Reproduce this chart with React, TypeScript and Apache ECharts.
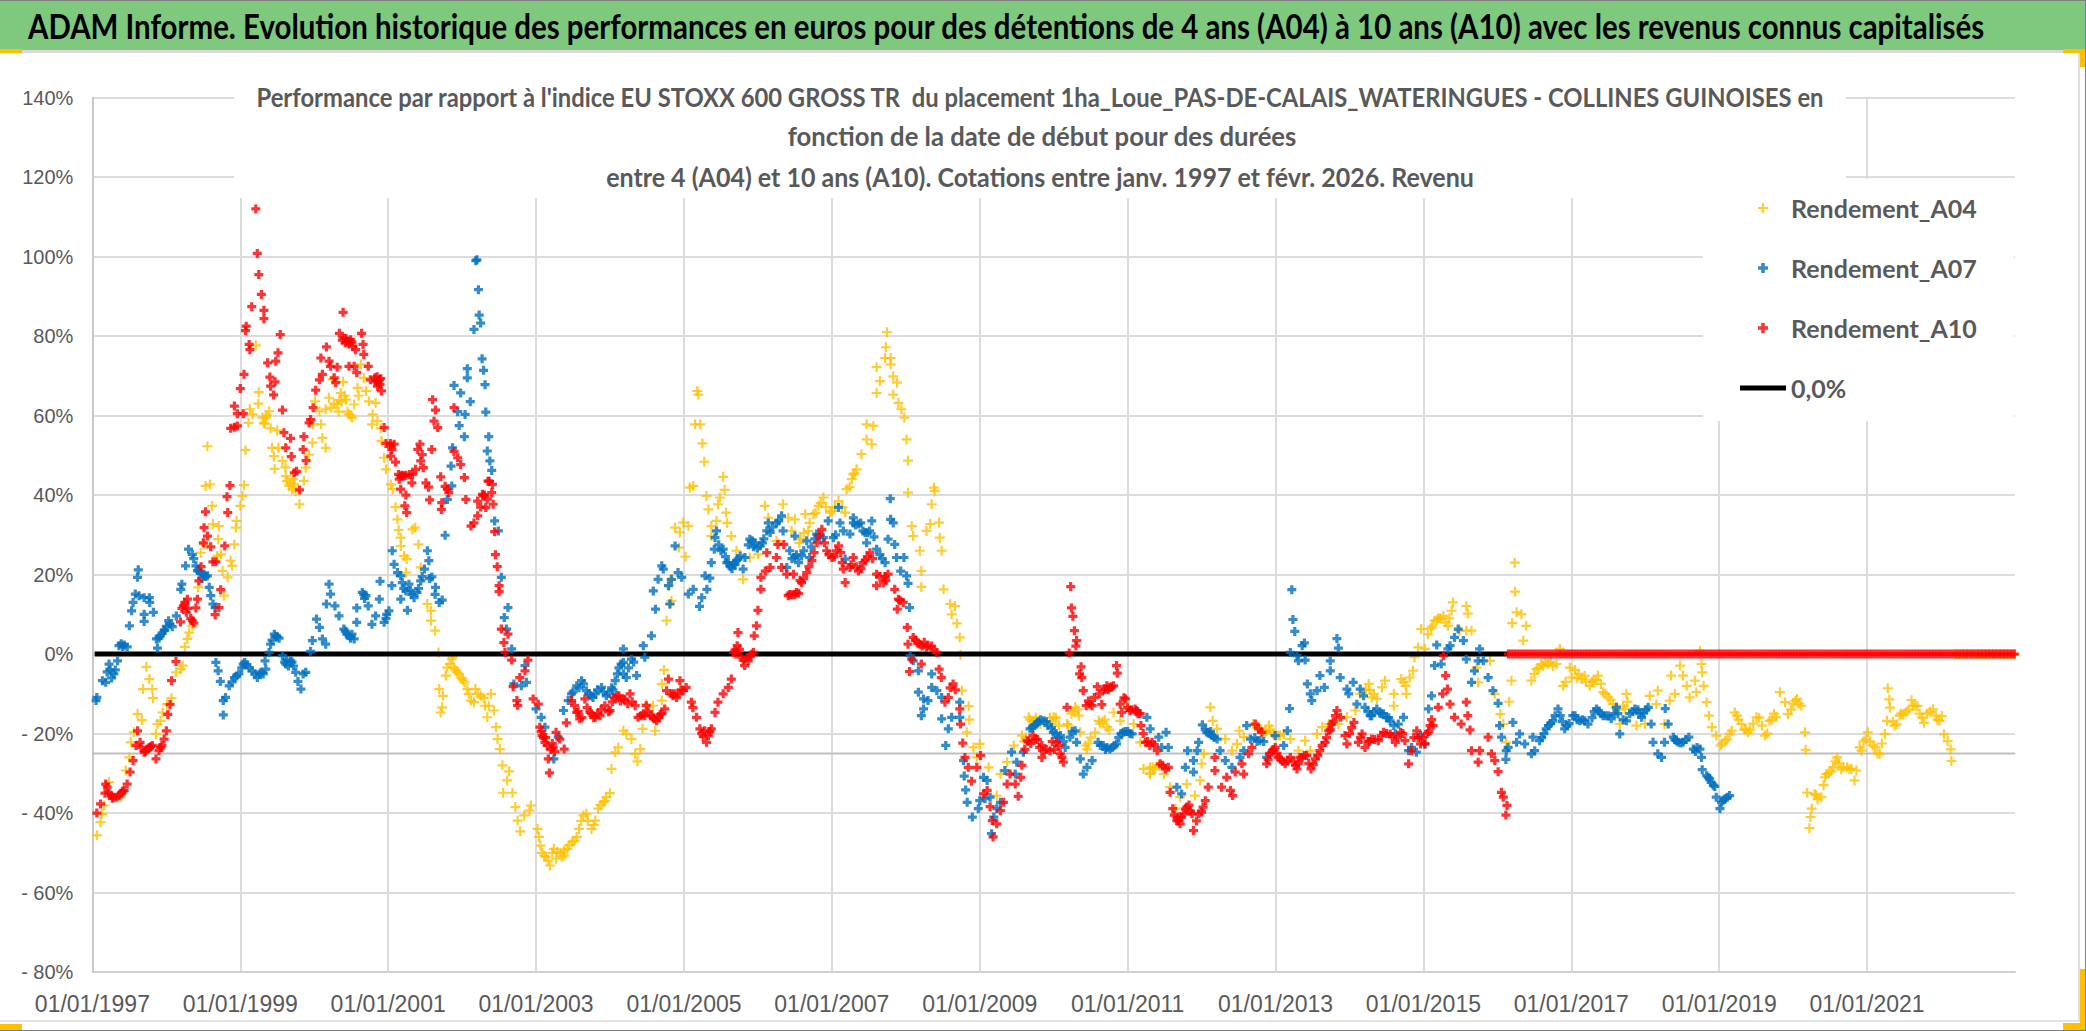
import React, { useEffect, useRef } from "react";
import * as echarts from "echarts";

const pageTitle = "ADAM Informe. Evolution historique des performances en euros pour des détentions de 4 ans (A04) à 10 ans (A10) avec les revenus connus capitalisés";
const subtitleLines = [
  "Performance par rapport à l'indice EU STOXX 600 GROSS TR  du placement 1ha_Loue_PAS-DE-CALAIS_WATERINGUES - COLLINES GUINOISES en",
  "fonction de la date de début pour des durées",
  "entre 4 (A04) et 10 ans (A10). Cotations entre janv. 1997 et févr. 2026. Revenu",
];
const seriesNames = ["Rendement_A04", "Rendement_A07", "Rendement_A10", "0,0%"];

const a04Points = [
[1997.06,-45.6],[1997.11,-42.3],[1997.13,-40.2],[1997.16,-38.1],[1997.225,-32.2],[1997.38,-36],[1997.45,-29.3],[1997.5,-26],[1997.52,-22.2],[1997.56,-19.7],[1997.61,-15.1],[1997.67,-16.6],[1997.73,-3.2],[1997.77,-6.3],[1997.685,-8.8],[1997.81,-8.8],[1997.82,-11.1],[1997.88,-17.6],[1997.86,-20.1],[1997.92,-16.8],[1997.95,-14.7],[1998.07,-11.1],[1998.01,-12.6],[1998.13,-4.6],[1998.22,-2.9],[1998.195,-3.8],
[1998.25,1.8],[1998.285,3.8],[1998.31,5.4],[1998.35,7.1],[1998.43,16.8],[1998.78,14.7],[1998.83,19.3],[1998.87,23.5],[1998.89,22.2],[1998.76,20.9],[1998.69,24.7],[1998.92,27.6],[1998.74,25.1],[1998.7,28.9],[1998.465,25.5],[1998.51,27.6],[1998.63,32.7],[1998.71,32.2],[1998.62,37.3],[1998.53,42.3],[1998.59,42.7],[1998.555,52.3],[1998.94,31.8],[1998.95,33.5],[1999,37.3],[1999.03,39.8],[1999.05,42.5],[1999.07,51.3],[1999.11,58.2],[1999.13,61.6],[1999.21,77.7],[1999.165,60.3],[1999.25,65.9],[1999.245,63],[1999.3,59.5],[1999.33,58],[1999.345,59.5],[1999.36,60],[1999.39,61.1],[1999.32,58.2],[1999.41,56.8],[1999.5,56.3],[1999.43,51.9],[1999.515,51.9],[1999.455,49.8],[1999.57,48.6],[1999.61,47],[1999.465,46.6],[1999.615,44.8],[1999.63,43.5],[1999.66,42.3],[1999.68,43],[1999.71,44],[1999.73,42.7],[1999.705,41.5],[1999.75,41],[1999.8,37.7],[1999.86,43.6],[1999.885,46.9],[1999.93,50.2],[1999.975,53.2],
[1999.985,57.8],[2000.01,63.6],[2000.07,61.1],[2000.09,57.8],[2000.11,54.4],[2000.155,51.9],[2000.155,61.6],[2000.2,64.5],[2000.23,62],[2000.25,69.1],[2000.27,63],[2000.31,62.8],[2000.33,61],[2000.34,64],[2000.36,65.7],[2000.37,63.5],[2000.39,68.5],[2000.41,65],[2000.43,64],[2000.45,61],[2000.47,60.3],[2000.5,60],[2000.51,59.5],[2000.54,62.8],[2000.585,67],[2000.6,65],[2000.63,72.9],[2000.67,69.5],[2000.7,66.2],[2000.74,63.6],[2000.83,63.2],[2000.79,60.3],[2000.78,57.8],[2000.855,58.6],[2000.9,56.8],[2000.91,53.6],[2000.945,49.4],[2000.97,46.5],[2001.035,42.7],[2001.06,41.5],[2001.1,37],[2001.125,33.9],[2001.14,31.2],[2001.17,29.3],[2001.17,27.2],[2001.215,24.7],[2001.25,23.9],[2001.24,20.5],[2001.33,31.4],[2001.365,31.8],[2001.41,27.6],[2001.44,21.8],[2001.53,12.6],[2001.58,10.9],[2001.58,8.4],[2001.635,5.9],[2001.68,0.4],[2001.87,-0.8],
[2001.69,-8.8],[2001.74,-10.5],[2001.73,-13.4],[2001.71,-14.7],[2001.78,-5.4],[2001.8,-3.4],[2001.83,-2.5],[2001.86,-1.3],[2001.89,-3.4],[2001.91,-4],[2001.93,-4.5],[2001.96,-5],[2001.99,-6],[2002.01,-6.5],[2002.03,-7.1],[2002.07,-8.8],[2002.09,-10],[2002.12,-11.7],[2002.16,-12.1],[2002.18,-8.8],[2002.21,-10],[2002.25,-10.5],[2002.29,-11],[2002.31,-13],[2002.34,-15.9],[2002.36,-13],[2002.39,-10],[2002.43,-14.2],[2002.46,-18.4],[2002.48,-21.4],[2002.51,-23.9],[2002.545,-28],[2002.635,-29.5],[2002.61,-31.8],[2002.555,-34.9],[2002.68,-34.9],[2002.72,-38.5],[2002.75,-41.9],[2002.785,-44.6],[2002.84,-40.6],[2002.91,-39.4],[2002.93,-38.1],[2003.02,-44],[2003.04,-46],[2003.06,-48.2],[2003.08,-50],[2003.11,-50.7],[2003.13,-51],[2003.16,-52],[2003.19,-53.2],[2003.22,-50],[2003.24,-49],[2003.27,-51.5],[2003.29,-49.8],[2003.33,-50],[2003.35,-51],[2003.38,-50.7],[2003.38,-49.4],[2003.42,-49],[2003.45,-48],[2003.49,-47.3],[2003.52,-47],[2003.55,-46],
[2003.58,-44],[2003.61,-42],[2003.64,-40.6],[2003.68,-40.2],[2003.7,-42],[2003.75,-44],[2003.78,-43],[2003.8,-41.9],[2003.84,-38.9],[2003.87,-38],[2003.91,-37.3],[2003.93,-37],[2003.95,-36],[2004,-35],[2004.02,-28.9],[2004.07,-24.7],[2004.11,-23.5],[2004.18,-19.3],[2004.22,-20.1],[2004.29,-21.4],[2004.34,-25.1],[2004.37,-27],[2004.41,-23.9],[2004.44,-18.8],[2004.61,-19.3],[2004.49,-12.6],[2004.58,-13],[2004.7,-11.7],[2004.7,-7.5],[2004.73,-4],[2004.765,8.4],[2004.81,12.6],[2004.83,13.4],[2004.8,17.2],[2004.83,18.8],[2004.93,26.8],[2005.02,24.5],[2004.88,31.8],[2004.945,30.6],[2004.99,33.1],[2005.06,32.2],
[2005.08,41.9],[2005.125,42.3],[2005.18,66.2],[2005.195,65.3],[2005.15,57.8],[2005.22,57.8],[2005.25,53],[2005.275,48.4],[2005.305,39.8],[2005.33,36.4],[2005.53,44.6],[2005.55,41.3],[2005.485,39.4],[2005.46,37.7],[2005.57,35.6],[2005.585,33],[2005.37,32.2],[2005.44,33.5],[2005.37,29.7],[2005.64,29.7],[2005.71,26],[2005.8,18.8],[2005.89,24.3],[2006,25.1],[2006.095,37.3],[2006.14,34.3],[2006.25,28.5],[2006.34,37.7],[2006.41,34.3],[2006.5,33.9],[2006.455,31],[2006.56,28],[2006.58,29],[2006.62,30.5],[2006.64,35.2],[2006.68,31],[2006.7,33],[2006.75,35.2],[2006.78,35.5],[2006.82,37.3],[2006.85,38],[2006.885,39.4],[2006.92,37],[2006.975,35.6],[2007,36],[2007.04,37],[2007.09,38.5],[2007.14,37],[2007.18,35.6],[2007.2,41.5],[2007.24,42],[2007.27,44],[2007.29,45.2],[2007.31,45.5],[2007.335,46.5],[2007.4,50.3],[2007.47,54],[2007.54,52.8],[2007.47,57.8],[2007.56,57.4],[2007.605,65.7],[2007.605,72.2],[2007.65,68.7],[2007.72,74.5],[2007.73,77.2],[2007.745,81],[2007.795,74.5],[2007.795,72.9],[2007.83,69.9],[2007.88,68.3],[2007.83,65.3],[2007.9,63.2],[2007.94,61.6],[2007.98,59.5],[2008.01,54],[2008.03,48.7],[2008.03,40.6],[2008.38,41.9],[2008.39,41],[2008.35,37.7],[2008.08,32.2],[2008.1,29.7],[2008.19,26],[2008.28,31],[2008.33,32.7],[2008.45,33.1],[2008.46,29.3],[2008.485,26],[2008.21,20.9],[2008.21,16.9],[2008.51,16.3],[2008.6,12.6],[2008.665,12.1],[2008.62,10],[2008.69,7.7],[2008.73,4.2],[2008.74,-0.2],
[2008.76,-9.2],[2008.85,-13.1],[2008.86,-16.5],[2008.825,-19.7],[2008.915,-23.5],[2009,-22.6],[2008.96,-26],[2009.12,-28.5],[2009.28,-30.2],[2009.37,-27.2],[2009.23,-35.6],[2009.46,-23],[2009.57,-20.5],[2009.6,-22],[2009.62,-21],[2009.66,-15.9],[2009.68,-16.5],[2009.71,-17],[2009.73,-16.8],[2009.76,-16],[2009.82,-17.6],[2009.95,-16],[2009.98,-17.5],[2010,-15.9],[2010.03,-16],[2010.07,-18],[2010.18,-17.6],[2010.2,-18],[2010.24,-15],[2010.27,-14.5],[2010.29,-13.4],[2010.32,-14],[2010.34,-15.5],[2010.43,-23],[2010.45,-24],[2010.47,-22.5],[2010.5,-21],[2010.36,-19.7],[2010.56,-19.7],[2010.61,-16.8],[2010.63,-17.5],[2010.66,-17],[2010.69,-16.5],[2010.72,-18.4],[2010.75,-19],[2010.81,-14.7],[2010.9,-16.8],[2011,-13.4],[2011.08,-17.6],[2011.17,-22.2],[2011.215,-28.9],[2011.3,-30],[2011.305,-28.5],[2011.305,-30.2],[2011.34,-28.5],[2011.37,-29],[2011.42,-28],[2011.49,-30.2],[2011.575,-33.5],[2011.645,-38.9],[2011.71,-36],[2011.8,-32.7],[2011.91,-35.6],[2011.98,-31.8],[2012.03,-25.1],[2012,-27.6],[2012.12,-13.4],[2012.15,-16.8],[2012.21,-18.8],[2012.32,-21.4],[2012.41,-24.3],[2012.48,-22.6],[2012.51,-19.3],[2012.57,-20.9],[2012.7,-17.6],[2012.75,-18],[2012.8,-19],[2012.85,-19.5],[2012.87,-19.5],[2012.91,-18],[2012.93,-19],[2012.97,-20],[2012.995,-20.5],[2013.03,-20.5],[2013.06,-20.5],[2013.11,-20.1],[2013.2,-21.4],[2013.31,-24.3],[2013.4,-21.8],[2013.47,-24.3],[2013.56,-20.1],[2013.63,-18.4],[2013.72,-17.6],[2013.85,-17.6],[2013.965,-15.9],[2014.08,-14.2],[2014.145,-10],[2014.22,-9],[2014.26,-7.5],[2014.27,-9],[2014.3,-10.9],[2014.33,-10],[2014.37,-11.3],[2014.44,-8.4],[2014.48,-6.7],[2014.6,-10],[2014.6,-13],[2014.7,-6.3],[2014.73,-7],[2014.76,-8],[2014.77,-10],[2014.815,-5.9],[2014.86,-4.2],[2014.88,-0.8],[2014.93,1.7],[2015.02,1.3],[2014.97,6.3],[2015.06,5],[2015.1,6.5],[2015.12,7],[2015.15,8.4],[2015.18,8.5],[2015.2,9],[2015.23,9],[2015.27,9.6],[2015.3,8],[2015.33,7.1],[2015.35,9],[2015.38,10.9],[2015.4,13],[2015.58,12.1],[2015.6,10.2],[2015.49,5.9],[2015.58,5.9],[2015.65,5.9],
[2015.72,-3.4],[2015.74,-7.1],[2015.9,-1.7],[2015.965,-10],[2016.04,-15.1],[2016.08,-17.6],[2016.12,-22.2],[2016.16,-12],[2016.19,-6.7],[2016.2,7.8],[2016.235,23],[2016.24,15.7],[2016.26,10.5],[2016.325,10],[2016.39,7.1],[2016.35,3.4],
[2016.46,-6.7],[2016.5,-5],[2016.53,-3.8],[2016.56,-3.5],[2016.595,-2.5],[2016.62,-3],[2016.65,-2],[2016.685,-2.5],[2016.72,-2],[2016.75,-3],[2016.8,-2.5],[2016.845,1.3],[2016.89,-8],[2016.92,-7],[2016.98,-3.4],[2017,-5.9],[2017.05,-4],[2017.08,-6],[2017.1,-5],[2017.14,-6.3],[2017.18,-5.5],[2017.2,-7],[2017.25,-8],[2017.28,-7],[2017.3,-6.5],[2017.33,-6.5],[2017.36,-5.4],[2017.4,-7.5],[2017.43,-9.6],[2017.46,-10],[2017.5,-10.9],[2017.53,-11.5],[2017.565,-12.6],[2017.6,-13.5],[2017.62,-14],[2017.7,-13],[2017.745,-10],[2017.725,-13.8],[2017.76,-12],[2017.655,-17.6],[2017.88,-18],[2017.995,-17.6],[2018.06,-10.5],[2018.17,-9.2],[2018.15,-12.6],[2018.26,-17.6],[2018.33,-11.7],[2018.4,-10],[2018.35,-5.4],[2018.47,-2.9],[2018.51,-5.4],[2018.56,-8],[2018.6,-10.9],[2018.67,-6.7],[2018.69,-9.6],[2018.74,0.8],[2018.76,-2.5],[2018.77,-4.6],[2018.79,-8],[2018.83,-12.1],[2018.86,-15.5],[2018.9,-18.4],[2018.96,-20.5],[2019.02,-23],[2019.04,-22.5],[2019.08,-21.8],[2019.11,-21.5],[2019.14,-20],[2019.17,-19.3],[2019.21,-14.7],[2019.24,-15.5],[2019.26,-16.5],[2019.3,-17.6],[2019.34,-19],[2019.36,-19],[2019.39,-19.7],[2019.42,-19],[2019.46,-17.5],[2019.505,-15.9],[2019.54,-16],[2019.58,-18],[2019.62,-20.5],[2019.65,-20],[2019.68,-16.8],[2019.71,-16.5],[2019.74,-15],[2019.77,-15.9],[2019.82,-9.6],[2019.89,-12.1],[2019.93,-15.1],[2019.97,-14],[2020,-12.5],[2020.03,-11.8],[2020.05,-11.3],[2020.08,-12.5],[2020.11,-13],
[2020.16,-19.7],[2020.17,-24.1],[2020.19,-34.9],[2020.25,-38.9],[2020.235,-41],[2020.22,-43.8],[2020.29,-35.2],[2020.31,-35.5],[2020.33,-36.5],[2020.38,-36],[2020.41,-33],[2020.43,-31],[2020.45,-30.2],[2020.48,-30],[2020.51,-29.5],[2020.54,-28.5],[2020.57,-27],[2020.595,-26],[2020.62,-27.5],[2020.65,-29],[2020.68,-28.5],[2020.73,-28.5],[2020.76,-29],[2020.79,-28.9],[2020.83,-31.8],[2020.855,-29.3],
[2020.9,-23.5],[2020.925,-24.3],[2020.95,-22],[2020.98,-21.5],[2021.01,-19.7],[2021.04,-22],[2021.08,-23],[2021.11,-23.5],[2021.14,-25],[2021.17,-25.1],[2021.2,-22.5],[2021.24,-20.1],[2021.28,-8.6],[2021.3,-11.4],[2021.31,-13.5],[2021.27,-16.8],[2021.35,-17],[2021.37,-18],[2021.4,-17.7],[2021.44,-15.5],[2021.46,-15],[2021.49,-15.2],[2021.53,-14.5],[2021.56,-14],[2021.6,-11.6],[2021.62,-13],[2021.65,-13],[2021.68,-13.1],[2021.71,-15],[2021.74,-16],[2021.77,-17.3],[2021.81,-15],[2021.85,-14.5],[2021.89,-13.9],[2021.93,-15.5],[2021.95,-16.5],[2021.98,-16.8],[2022.01,-15.6],[2022.04,-20.2],[2022.09,-21.9],[2022.13,-24],[2022.14,-26.9],
[2022.2,0],[2022.25,0],[2022.3,0],[2022.35,0],[2022.4,0],[2022.45,0],[2022.5,0],[2022.55,0],[2022.6,0],[2022.65,0],[2022.7,0],[2022.75,0],[2022.8,0],[2022.85,0],[2022.9,0],[2022.95,0],[2022.99,0],
];

const a07Points = [
[1997.06,-10.9],[1997.05,-11.7],[1997.135,-6.7],[1997.18,-7.1],[1997.2,-4.5],[1997.225,-2.5],[1997.24,-4],[1997.26,-6],[1997.29,-5],[1997.31,-4],[1997.34,-1.7],[1997.36,2.1],[1997.39,2.6],[1997.41,1.9],[1997.43,2.3],[1997.47,1.8],[1997.5,7.1],[1997.53,10.9],[1997.55,13],[1997.58,15.1],[1997.63,14.7],[1997.61,19.3],[1997.62,21.2],[1997.7,14.2],[1997.77,14.2],[1997.775,13],[1997.7,10],[1997.7,8.2],[1997.825,10.5],[1997.88,1.5],[1997.865,3.8],[1997.9,4],[1997.92,4.6],[1997.94,5.3],[1997.97,5.9],[1997.98,6],[1998,7],[1998.03,8.4],[1998.05,7.5],[1998.08,6.9],[1998.135,9.6],[1998.21,17.6],[1998.195,16.3],
[1998.26,22.2],[1998.3,26.4],[1998.35,25.1],[1998.37,24],[1998.4,22.2],[1998.42,21],[1998.44,20.9],[1998.46,20.5],[1998.48,19],[1998.51,20.1],[1998.53,19.5],[1998.555,19.7],[1998.58,16.8],[1998.6,14.7],[1998.63,12.6],[1998.66,11.7],
[1998.67,-2.1],[1998.7,-4.2],[1998.73,-6.9],[1998.77,-11.7],[1998.77,-15.3],[1998.8,-10.9],[1998.85,-8],[1998.89,-7],[1998.92,-5.9],[1998.95,-5.5],[1998.98,-5],[1999.02,-3.5],[1999.04,-2.5],[1999.06,-2.1],[1999.09,-2.7],[1999.12,-3.4],[1999.16,-4.3],[1999.2,-5],[1999.23,-5.9],[1999.26,-5],[1999.28,-4.6],[1999.31,-5],[1999.345,-3.8],[1999.335,-1.7],[1999.39,0.4],[1999.41,2.5],[1999.43,3.5],[1999.46,5],[1999.48,4.5],[1999.5,4.3],[1999.525,4],[1999.57,-0.4],[1999.6,-2],[1999.615,-2.5],[1999.63,-1.5],[1999.65,-3],[1999.68,-1.7],[1999.7,-2],[1999.72,-3],[1999.75,-4.6],[1999.85,-5],[1999.885,-4.6],[1999.78,-6.9],[1999.82,-8.8],[1999.95,0.7],[1999.975,3.4],[2000.03,8.8],[2000.07,6.7],[2000.11,3.8],[2000.155,2.5],[2000.165,12.6],[2000.2,17.6],[2000.22,15.1],[2000.28,12.1],[2000.335,9.6],[2000.4,6.3],[2000.42,5.8],[2000.44,5],[2000.47,4.6],[2000.49,4],[2000.51,5],[2000.54,3.8],[2000.575,8],[2000.575,11.6],[2000.65,15.5],[2000.67,15],[2000.68,14],[2000.7,14.7],[2000.73,12.1],[2000.78,7.5],[2000.83,9.6],[2000.89,18.3],[2000.88,13.8],[2000.945,8],[2000.97,9],[2000.98,10],[2001.01,10.9],[2001.05,17.2],[2001.08,22.6],[2001.125,20.5],[2001.17,19.7],[2001.17,13.8],[2001.19,18],[2001.21,16.5],[2001.24,15.9],[2001.26,11],[2001.28,17.6],[2001.3,16],[2001.32,15],[2001.35,14.2],[2001.39,15.5],[2001.41,16.5],[2001.44,18.4],[2001.46,19.5],[2001.49,21.4],[2001.56,19],[2001.59,19.4],[2001.64,16.8],[2001.635,15],[2001.69,13],[2001.73,13.6],[2001.055,26],[2001.53,26],[2001.55,23.5],
[2001.77,29.9],[2001.8,38.9],[2001.86,42.3],[2001.85,47.3],[2001.87,51.9],[2002.03,54.7],[2001.96,57.5],[2001.94,61],[2002.04,60.3],[2001.98,65.7],[2001.89,67.6],[2002.11,63.5],[2002.07,69.5],[2002.07,71.8],[2002.16,81.7],[2002.25,83.3],[2002.23,85.3],[2002.22,91.7],[2002.185,99],[2002.2,99.2],
[2002.27,74.3],[2002.29,71.4],[2002.31,67.8],[2002.32,60.9],[2002.36,54.7],[2002.34,51.1],[2002.375,48.6],[2002.4,46.2],[2002.44,33.5],[2002.49,31],[2002.53,19.3],[2002.62,11.7],[2002.57,9.2],[2002.6,6.3],[2002.67,1.3],[2002.87,-7.1],[2002.8,-8],[2002.7,-7.5],[2002.85,-2.9],[2003,-13.8],[2003.07,-15.9],[2003.12,-18.4],[2003.24,-26.4],[2003.3,-20.9],[2003.37,-14.2],[2003.435,-11.7],[2003.48,-10],[2003.5,-9.5],[2003.55,-8],[2003.58,-8.5],[2003.615,-6.7],[2003.64,-7.5],[2003.68,-9.2],[2003.71,-10],[2003.74,-10.5],[2003.77,-10.9],[2003.8,-10],[2003.83,-9],[2003.885,-8.4],[2003.91,-9.5],[2003.95,-10.5],[2003.98,-10],[2004.02,-8.5],[2004.04,-9],[2004.07,-6.7],[2004.1,-5],[2004.12,-3.5],[2004.15,-2.5],[2004.18,1.3],[2004.18,-2.1],[2004.18,-5],[2004.25,-3.5],[2004.29,-1.3],[2004.32,-2],[2004.36,-5.4],[2004.22,-5.9],[2004.45,2.1],[2004.47,-0.8],[2004.56,4.6],[2004.615,11.3],[2004.585,15.9],[2004.65,18.8],[2004.7,22.2],[2004.72,21.4],[2004.79,17.2],[2004.81,12.6],[2004.83,18.8],[2004.88,27.2],[2004.92,20.5],[2004.97,19.3],[2005.06,15.1],[2005.125,16.3],[2005.21,12],[2005.24,14.2],[2005.31,16.3],[2005.285,19.7],[2005.35,19.1],[2005.37,23],[2005.41,26.4],[2005.44,31],[2005.42,29.3],[2005.47,27.5],[2005.5,26],[2005.53,26.4],[2005.56,24.5],[2005.58,23],[2005.6,23],[2005.63,22],[2005.65,21.5],[2005.67,22.6],[2005.69,22.5],[2005.71,23.5],[2005.73,23.9],[2005.76,24.7],[2005.825,24.3],[2005.8,21.4],[2005.87,27.5],[2005.89,28.9],[2005.92,28.5],[2005.94,27],[2005.96,28],[2005.99,26.7],[2006.03,27.2],[2006.06,28],[2006.08,29],[2006.12,31],[2006.165,30.6],[2006.14,33],[2006.2,32],[2006.25,33],[2006.28,33.5],[2006.32,34.8],[2006.34,31],[2006.39,21.8],[2006.43,26],[2006.46,24],[2006.5,29.7],[2006.5,24.3],[2006.52,25],[2006.55,23],[2006.59,24.7],[2006.62,26],[2006.66,28.5],[2006.7,24.3],[2006.72,27],[2006.77,29],[2006.795,30.2],[2006.83,29.5],[2006.885,29.3],[2006.95,33.5],[2007.02,29.3],[2007.05,30],[2007.09,36.9],[2007.11,33],[2007.155,31],[2007.18,23.9],[2007.245,30.2],[2007.29,34.3],[2007.29,33],[2007.32,32.5],[2007.36,32.7],[2007.39,33],[2007.42,31],[2007.45,30.6],[2007.48,30.5],[2007.51,31],[2007.54,33.5],[2007.47,28],[2007.57,29.5],[2007.605,26.4],[2007.65,25],[2007.68,24],[2007.72,23],[2007.76,28.9],[2007.79,39.1],[2007.795,33.9],[2007.83,33],[2007.85,27.6],[2007.875,24.3],[2007.975,24.3],[2007.93,20.9],[2008.01,19.7],[2008.03,17.8],[2008.05,11.7],
[2008.06,-0.4],[2008.1,-1.7],[2008.17,-4.2],[2008.35,-5],[2008.35,-8.4],[2008.17,-9.6],[2008.24,-11.3],[2008.3,-11.7],[2008.21,-15.5],[2008.24,-13.8],[2008.485,-10.9],[2008.42,-9.2],[2008.73,-12.1],[2008.485,-16.3],[2008.62,-15.9],[2008.575,-18.8],[2008.54,-23],[2008.73,-15.9],[2008.78,-26.8],[2008.79,-30.7],[2008.81,-34.2],[2008.83,-37.3],[2008.9,-41],[2008.98,-38.9],[2009,-36.9],[2009.07,-36.4],[2009.14,-36],[2009.05,-31],[2009.1,-31.8],[2009.19,-41],[2009.16,-45.2],[2009.23,-38.9],[2009.28,-37.3],[2009.34,-29.3],[2009.43,-24.7],[2009.5,-27.2],[2009.48,-30.2],[2009.59,-24.7],[2009.68,-18.8],[2009.71,-18.5],[2009.74,-18],[2009.77,-17.6],[2009.79,-17],[2009.82,-16.5],[2009.86,-16.8],[2009.9,-17],[2009.92,-18],[2009.97,-18.5],[2009.995,-19.7],[2010.03,-20],[2010.06,-21],[2010.09,-20.5],[2010.13,-22],[2010.155,-23.5],[2010.22,-20.9],[2010.25,-19.5],[2010.29,-19.3],[2010.31,-22.2],[2010.36,-26.4],[2010.4,-30.2],[2010.45,-28.5],[2010.52,-26.8],[2010.6,-22.2],[2010.63,-23],[2010.67,-23],[2010.7,-24],[2010.72,-23.5],[2010.76,-23.9],[2010.79,-23.5],[2010.82,-23],[2010.85,-22.6],[2010.88,-21],[2010.91,-20],[2010.94,-19.7],[2010.97,-19.5],[2011,-19.5],[2011.03,-20],[2011.06,-20.1],[2011.12,-14.2],[2011.26,-15.9],[2011.305,-18.8],[2011.42,-20.9],[2011.52,-19.7],[2011.46,-23.5],[2011.55,-23.5],[2011.665,-33.5],[2011.73,-35.2],[2011.78,-28.5],[2011.81,-24.3],[2011.89,-26.8],[2011.89,-29.7],[2011.94,-24.3],[2011.96,-22.2],[2012.01,-17.8],[2012.05,-19],[2012.07,-19.7],[2012.1,-20],[2012.12,-19.5],[2012.14,-20.5],[2012.17,-21],[2012.21,-21.4],[2012.25,-24.3],[2012.32,-26.8],[2012.41,-28.5],[2012.52,-26],[2012.57,-24.3],[2012.61,-18],[2012.66,-21.4],[2012.72,-21],[2012.75,-22],[2012.79,-21.8],[2012.84,-22],[2012.88,-26],[2012.995,-20.5],[2013.11,-23],[2013.16,-19.3],[2013.19,-13.7],
[2013.22,16.2],[2013.235,8.7],[2013.26,5.7],[2013.2,0.4],[2013.31,-1.7],[2013.29,-0.4],[2013.36,2.1],[2013.39,2.8],[2013.4,-1.5],[2013.43,-7.5],[2013.47,-10],[2013.49,-11.7],[2013.56,-9.2],[2013.6,-5.4],[2013.66,-8.4],[2013.74,-4.2],[2013.74,-1.7],[2013.83,3.9],[2013.85,1.5],[2013.875,-5.9],[2013.965,-8.8],[2013.99,-10],[2014.05,-7.1],[2014.145,-8.8],[2014.1,-12.6],[2014.19,-10.5],[2014.21,-13.4],[2014.25,-14.5],[2014.28,-15.5],[2014.3,-15.5],[2014.33,-14.5],[2014.37,-13.8],[2014.41,-14.8],[2014.43,-15],[2014.46,-15],[2014.5,-16],[2014.53,-16],[2014.55,-16.8],[2014.6,-18],[2014.62,-20.1],[2014.66,-17.6],[2014.73,-15.9],[2014.8,-24.3],[2014.84,-23.5],[2014.905,-24.7],[2014.96,-20.5],[2015.02,-22.6],[2015.07,-13.8],[2015.11,-10.5],[2015.15,-2.9],[2015.18,2.3],[2015.24,-2.5],[2015.33,1.3],[2015.36,2.1],[2015.42,4.2],[2015.47,6.3],[2015.54,3.4],[2015.58,-1.3],[2015.65,-7.1],[2015.69,-4.2],[2015.76,1.3],[2015.74,-1.7],[2015.81,-1.7],[2015.875,-5.9],[2015.94,-9.2],[2016.01,-12.4],[2016.03,-18],[2016.055,-20.9],[2016.12,-24.3],[2016.115,-26.5],[2016.145,-23.5],[2016.21,-17.2],[2016.26,-22.2],[2016.3,-20.1],[2016.37,-22.6],[2016.46,-25.1],[2016.505,-24.3],[2016.48,-20.9],[2016.57,-21.8],[2016.6,-21],[2016.63,-20],[2016.66,-18.8],[2016.69,-18],[2016.72,-17.5],[2016.75,-16.8],[2016.78,-15.5],[2016.82,-13.8],[2016.85,-15.5],[2016.88,-17],[2016.91,-18.8],[2016.94,-18],[2016.97,-17.5],[2017.02,-15.5],[2017.05,-15.5],[2017.08,-16.5],[2017.115,-16.8],[2017.15,-16.5],[2017.18,-16.8],[2017.225,-17.6],[2017.28,-16],[2017.31,-14.5],[2017.34,-13.8],[2017.37,-14.3],[2017.4,-15],[2017.43,-15.5],[2017.46,-15.5],[2017.5,-15.5],[2017.54,-16.3],[2017.58,-15],[2017.61,-13.4],[2017.63,-15],[2017.655,-20.1],[2017.7,-16.5],[2017.745,-16.8],[2017.79,-15],[2017.83,-14.5],[2017.86,-13.8],[2017.9,-14],[2017.92,-15],[2017.95,-15.9],[2017.98,-14.8],[2018.01,-14],[2018.04,-13.4],[2018.08,-17.6],[2018.105,-22.2],[2018.17,-25.1],[2018.26,-22.2],[2018.22,-26],[2018.27,-13.7],[2018.31,-17.6],[2018.38,-20.9],[2018.4,-21.5],[2018.42,-21.8],[2018.445,-22.2],[2018.48,-22.4],[2018.51,-22.2],[2018.55,-21.5],[2018.59,-20.9],[2018.65,-23.9],[2018.68,-24.5],[2018.7,-23.5],[2018.74,-23.9],[2018.76,-26],[2018.77,-29.1],[2018.83,-30.6],[2018.85,-31],[2018.87,-31.4],[2018.89,-32.3],[2018.92,-33],[2018.94,-33.3],[2018.96,-36],[2019.01,-38.9],[2019.03,-37.3],[2019.05,-36.8],[2019.08,-36.4],[2019.11,-36],[2019.14,-35.6],
];

const a10Points = [
[1997.06,-40],[1997.11,-37.7],[1997.18,-32.7],[1997.17,-35],[1997.2,-33.5],[1997.22,-35],[1997.25,-35.5],[1997.27,-36.3],[1997.29,-36],[1997.33,-36],[1997.36,-35.6],[1997.39,-35],[1997.41,-34.5],[1997.43,-34.3],[1997.47,-32.7],[1997.51,-29.7],[1997.55,-26.8],[1997.59,-23],[1997.61,-19.3],[1997.645,-22.2],[1997.66,-23.5],[1997.7,-24.7],[1997.72,-24.5],[1997.74,-23.9],[1997.77,-23.5],[1997.79,-23.3],[1997.81,-23],[1997.86,-26.4],[1997.9,-24.3],[1997.92,-23.5],[1997.94,-23],[1997.97,-21.4],[1998,-19.3],[1998.02,-15.2],[1998.05,-12.7],[1998.07,-6.7],[1998.13,-1.9],
[1998.19,8.1],[1998.21,11.5],[1998.23,12.1],[1998.25,13],[1998.27,10.5],[1998.29,11.5],[1998.33,9],[1998.35,8.4],[1998.37,7.8],[1998.285,13.8],[1998.4,11.6],[1998.42,13.8],[1998.44,18.4],[1998.47,22],[1998.63,23.2],[1998.67,23.2],[1998.51,31.8],[1998.555,29.7],[1998.5,28],[1998.6,27],[1998.79,27.2],[1998.53,35.8],[1998.83,35.6],[1998.82,39.6],[1998.86,42.4],[1998.66,9.9],[1998.71,11.7],[1998.735,16.2],
[1998.87,56.8],[1998.92,57.1],[1998.96,57.4],[1998.92,62.4],[1998.96,60.5],[1999.04,60.5],[1999,66.8],[1999.05,70.4],[1999.12,77.9],[1999.13,76.6],[1999.08,82.5],[1999.07,81.4],[1999.155,87.4],[1999.25,95.5],[1999.21,112],[1999.23,100.8],[1999.285,90.5],[1999.32,86.5],[1999.32,84.4],[1999.54,80.4],[1999.51,75.8],[1999.48,73.7],[1999.37,73.3],[1999.4,69.7],[1999.47,68.5],[1999.41,67.4],[1999.45,65.2],[1999.57,61.4],[1999.59,55.7],[1999.68,54.3],[1999.615,51.9],[1999.69,49.7],[1999.76,46],[1999.73,45.6],[1999.8,41.3],[1999.86,54.7],[1999.85,51.5],[1999.89,48.7],
[1999.95,59],[1999.93,58.2],[1999.985,62],[2000.02,66.4],[2000.07,69],[2000.11,70.4],[2000.09,74.5],[2000.165,77.3],[2000.2,73.7],[2000.22,72.4],[2000.31,72.2],[2000.27,69.5],[2000.29,68.3],[2000.34,80.7],[2000.39,86],[2000.38,79],[2000.4,79.5],[2000.42,78.3],[2000.43,79.4],[2000.45,78.7],[2000.47,78],[2000.49,79.1],[2000.51,78.5],[2000.52,77.5],[2000.47,72.4],[2000.54,72.4],[2000.575,70.8],[2000.56,76.6],[2000.64,80.7],[2000.66,77.9],[2000.67,75.4],[2000.73,72.4],[2000.76,69],[2000.82,69.5],[2000.83,68.7],[2000.85,69.8],[2000.86,68.3],[2000.88,69],[2000.89,67.8],[2000.9,69.3],[2000.855,67.4],[2000.91,66.2],
[2000.945,57],[2000.97,53],[2001.03,53],[2001.035,52.3],[2001.05,51.5],[2001.08,52.8],[2001.035,49.8],[2001.1,48.3],[2001.15,44],[2001.17,44.8],[2001.14,45.2],[2001.19,45],[2001.215,44.8],[2001.24,45],[2001.29,45.2],[2001.33,45.2],[2001.32,43.1],[2001.37,46.5],[2001.4,51.5],[2001.43,52.8],[2001.46,50.2],[2001.44,48.6],[2001.475,46.9],[2001.51,43.1],[2001.545,42],[2001.17,41.5],[2001.24,40],[2001.225,37.3],[2001.25,35.6],[2001.56,38.8],[2001.59,51.5],[2001.6,64],[2001.64,61.4],[2001.62,58.6],[2001.67,57],[2001.71,44.6],[2001.77,42.2],[2001.82,40.6],[2001.725,38.1],[2001.72,36.4],[2001.8,41.5],
[2001.89,62],[2001.89,51],[2001.94,49.4],[2001.98,47.7],[2002.03,44.4],[2002.05,38.9],[2002.12,32.2],[2002.16,33],[2002.21,34.8],[2002.21,38.5],[2002.25,37],[2002.275,40.2],[2002.3,40],[2002.34,39],[2002.365,43.5],[2002.41,42.7],[2002.285,39.8],[2002.35,43.5],[2002.4,40.6],[2002.42,37.7],[2002.32,36.9],[2002.44,30.8],[2002.45,25],[2002.475,22],[2002.5,17.2],[2002.5,15.7],[2002.53,6.3],[2002.62,5],[2002.565,2.9],[2002.58,0.4],[2002.67,-1.5],[2002.89,-1.5],[2002.85,-4.2],[2002.78,-5.9],[2002.69,-8.2],[2002.74,-11.7],[2002.75,-12.9],[2002.96,-11.3],[2003.03,-12.6],[2003.05,-18.4],[2003.07,-19.5],[2003.08,-20.5],[2003.1,-21],[2003.12,-22.2],[2003.13,-21],[2003.15,-23],[2003.2,-24],[2003.22,-22.5],[2003.23,-23.5],[2003.25,-24.5],[2003.165,-26.4],[2003.18,-29.9],[2003.27,-19.7],[2003.32,-21.4],[2003.38,-23.9],[2003.41,-17.3],[2003.48,-11.7],[2003.52,-13],[2003.55,-14.7],[2003.57,-14.5],[2003.59,-16.3],[2003.62,-16],[2003.66,-11.3],[2003.69,-13.5],[2003.73,-14.7],[2003.75,-15],[2003.78,-16],[2003.8,-15.9],[2003.83,-15],[2003.865,-15.5],[2003.88,-14],[2003.93,-13],[2003.98,-14.5],[2004,-14.2],[2004.03,-12],[2004.06,-11],[2004.09,-10.5],[2004.12,-10.5],[2004.14,-11.8],[2004.18,-11.3],[2004.2,-11.5],[2004.24,-12.5],[2004.27,-10],[2004.3,-12],[2004.34,-13],[2004.38,-15.9],[2004.42,-15.5],[2004.45,-15],[2004.47,-15.5],[2004.49,-13],[2004.52,-14.5],[2004.55,-15.5],[2004.58,-15.9],[2004.6,-16.3],[2004.63,-16.8],[2004.66,-16],[2004.68,-15.2],[2004.7,-15],[2004.74,-13.8],[2004.765,-9.2],[2004.79,-6.3],[2004.83,-10],[2004.85,-10.5],[2004.87,-10],[2004.9,-10.9],[2004.92,-10],[2004.945,-6.7],[2004.96,-9],[2004.99,-9.2],[2005.03,-8.4],[2005.1,-12.1],[2005.12,-13.5],[2005.17,-15.9],[2005.215,-18.8],[2005.24,-20],[2005.26,-20.8],[2005.305,-22.2],[2005.28,-19.3],[2005.33,-20.5],[2005.35,-19.5],[2005.37,-18.8],[2005.42,-14.7],[2005.46,-12.1],[2005.53,-10],[2005.6,-8.4],[2005.64,-6.3],
[2005.67,0.4],[2005.69,1],[2005.7,0],[2005.72,2.1],[2005.75,1.2],[2005.78,-0.8],[2005.8,-1.5],[2005.82,-2.9],[2005.85,-0.8],[2005.87,-1.7],[2005.9,-0.5],[2005.92,0],[2005.94,0.4],[2005.73,5.4],[2005.95,4.6],[2005.98,7.1],[2006,11],[2006.04,16.3],[2006.04,19.3],[2006.1,20.9],[2006.165,21.8],[2006.12,25.5],[2006.25,24.3],[2006.32,21.8],[2006.27,27.6],[2006.35,27.6],[2006.39,20.1],[2006.41,14.7],[2006.43,15],[2006.46,14.9],[2006.5,15],[2006.52,15.5],[2006.55,15.3],[2006.48,20.1],[2006.57,18.5],[2006.59,18],[2006.62,19],[2006.66,20.5],[2006.69,22],[2006.73,23.5],[2006.76,25.5],[2006.8,28],[2006.83,30],[2006.865,31.4],[2006.9,28],[2006.93,26],[2006.96,25],[2007,24.3],[2007.03,24.5],[2007.06,26],[2007.09,27.2],[2007.12,25.5],[2007.14,23],[2007.155,21.4],[2007.18,18],[2007.245,21.8],[2007.26,22.5],[2007.29,24.3],[2007.33,22],[2007.36,20.9],[2007.39,21.5],[2007.42,23],[2007.45,23.5],[2007.48,24.5],[2007.515,25.5],[2007.55,24],[2007.605,20.1],[2007.605,17.2],[2007.65,19.5],[2007.695,18],[2007.72,19.5],[2007.73,18.5],[2007.76,20.1],[2007.85,16.3],[2007.9,13.8],[2007.92,13.5],[2007.965,13],[2007.885,11.3],
[2008.02,6.7],[2008.1,4.2],[2008.03,2.5],[2008.13,3.5],[2008.16,2.8],[2008.19,2.5],[2008.22,2],[2008.25,3],[2008.28,1.7],[2008.3,2.1],[2008.35,2],[2008.38,1],[2008.42,0.4],[2008.08,-1.3],[2008.05,-4.4],[2008.21,-2.5],[2008.45,-3.8],[2008.48,-5.9],[2008.6,-8.5],[2008.64,-7.5],[2008.67,-9],[2008.575,-10.9],[2008.53,-12.1],[2008.73,-13.8],[2008.74,-17.6],[2008.77,-22.4],[2008.8,-26],[2008.845,-28.5],[2008.96,-28.5],[2008.89,-32],[2009.01,-25.5],[2009.1,-34.3],[2009.05,-35.2],[2009.14,-38.4],[2009.17,-41.9],[2009.18,-46],[2009.23,-42.7],[2009.28,-39.4],[2009.32,-37.3],[2009.37,-32.7],[2009.41,-30.2],[2009.48,-32.7],[2009.52,-35.8],[2009.555,-31],[2009.57,-28],[2009.61,-24],[2009.64,-21.8],[2009.66,-22],[2009.69,-22.5],[2009.72,-20.5],[2009.75,-21.4],[2009.78,-21.5],[2009.81,-23.5],[2009.84,-23],[2009.84,-26],[2009.87,-24.5],[2009.9,-24],[2009.95,-24.3],[2009.98,-22],[2010.01,-24],[2010.04,-22.2],[2010.07,-23],[2010.09,-25.1],[2010.11,-26],[2010.13,-27.2],
[2010.21,0.3],[2010.3,2],[2010.31,3.4],[2010.28,5.9],[2010.26,9.5],[2010.24,11.6],[2010.23,17],[2010.18,-13.4],[2010.37,-3.2],[2010.35,-5],[2010.38,-5.9],[2010.4,-9.2],[2010.44,-13],[2010.47,-11.8],[2010.49,-12.6],[2010.52,-13],[2010.55,-10.9],[2010.59,-8.2],[2010.62,-10],[2010.65,-12.7],[2010.68,-9],[2010.7,-8.8],[2010.72,-8],[2010.74,-9],[2010.76,-8.4],[2010.78,-8.2],[2010.81,-8],[2010.85,-2.9],[2010.86,-4.8],
[2010.9,-12.6],[2010.95,-11],[2010.97,-11.3],[2010.92,-14.7],[2011,-13.5],[2011.03,-14.2],[2011.05,-14],[2011.1,-13.8],[2011.12,-14.5],[2011.14,-15],[2011.17,-15],[2011.18,-18],[2011.21,-20],[2011.24,-22.2],[2011.27,-22],[2011.3,-23],[2011.33,-22.2],[2011.36,-22.8],[2011.4,-24.3],[2011.44,-27.6],[2011.47,-28],[2011.51,-28.9],[2011.55,-28.5],[2011.575,-34.8],[2011.61,-38.9],[2011.63,-40.5],[2011.665,-41.9],[2011.68,-41],[2011.69,-42],[2011.71,-42.7],[2011.73,-41],[2011.76,-40.2],[2011.78,-39],[2011.8,-38.5],[2011.83,-38],[2011.85,-39.5],[2011.87,-40.2],[2011.89,-44.4],[2011.93,-42],[2011.96,-40.2],[2012,-39.8],[2012.02,-38.5],[2012.05,-36.9],[2012.09,-33.5],[2012.18,-26],[2012.18,-29.3],[2012.27,-33.5],[2012.34,-31],[2012.39,-34.3],[2012.42,-35.6],[2012.455,-29.7],[2012.545,-27.6],[2012.57,-30.2],[2012.635,-25.1],[2012.68,-23.5],[2012.725,-17.6],[2012.77,-18.8],[2012.815,-19.7],
[2012.88,-27.6],[2012.9,-26.5],[2012.92,-25],[2012.95,-24.7],[2012.97,-24],[2012.995,-23.5],[2013.02,-25],[2013.04,-26],[2013.07,-26.5],[2013.1,-27],[2013.13,-27.6],[2013.16,-26.7],[2013.2,-26],[2013.24,-27],[2013.27,-28],[2013.29,-28.9],[2013.31,-27.5],[2013.33,-26],[2013.36,-26],[2013.39,-25.5],[2013.42,-25.5],[2013.45,-27.5],[2013.48,-28.9],[2013.51,-27.8],[2013.54,-26.4],[2013.57,-25.5],[2013.6,-24.3],[2013.63,-23],[2013.67,-22.2],[2013.69,-21],[2013.72,-19.3],[2013.74,-19],[2013.76,-17.6],[2013.78,-17],[2013.81,-15.5],[2013.83,-14.2],[2013.88,-15.9],[2013.94,-20.5],[2013.965,-22.6],[2014,-20],[2014.03,-18.5],[2014.06,-17.2],[2014.12,-22.2],[2014.15,-21],[2014.17,-20.1],[2014.21,-23.5],[2014.25,-22],[2014.27,-22],[2014.3,-21.4],[2014.34,-21.5],[2014.39,-21.8],[2014.43,-20.5],[2014.46,-19.7],[2014.5,-20],[2014.55,-20.1],[2014.58,-20.8],[2014.62,-22.2],[2014.65,-21],[2014.69,-19.7],[2014.72,-20],[2014.75,-21.8],[2014.8,-27.6],[2014.84,-24.3],[2014.87,-21],[2014.91,-19.3],[2014.93,-21],[2014.96,-22.6],[2014.99,-21],[2015.02,-22.6],[2015.05,-20],[2015.07,-19.5],[2015.09,-18],[2015.11,-16.5],[2015.13,-18],[2015.2,-13.4],[2015.26,-10],[2015.325,-8.8],[2015.3,-5.4],[2015.27,-0.4],[2015.36,-12.6],[2015.42,-15.9],[2015.51,-17.6],[2015.58,-12.1],[2015.6,-15.5],[2015.63,-19.1],[2015.65,-24.3],[2015.74,-27.2],[2015.76,-24.3],[2015.875,-20.9],[2015.92,-25.1],[2015.965,-26.8],[2016.01,-29.6],[2016.055,-34.8],[2016.08,-36],[2016.13,-38.1],[2016.115,-40.5],
];

const a10ZeroDates = [
2016.15,2016.19,2016.23,2016.27,2016.31,2016.35,2016.39,2016.43,2016.47,2016.51,2016.55,2016.59,2016.63,2016.67,2016.71,2016.75,2016.79,2016.83,2016.87,2016.91,2016.95,2016.99,
2017.03,2017.07,2017.11,2017.15,2017.19,2017.23,2017.27,2017.31,2017.35,2017.39,2017.43,2017.47,2017.51,2017.55,2017.59,2017.63,2017.67,2017.71,2017.75,2017.79,2017.83,2017.87,2017.91,2017.95,2017.99,
2018.03,2018.07,2018.11,2018.15,2018.19,2018.23,2018.27,2018.31,2018.35,2018.39,2018.43,2018.47,2018.51,2018.55,2018.59,2018.63,2018.67,2018.71,2018.75,2018.79,2018.83,2018.87,2018.91,2018.95,2018.99,
2019.03,2019.07,2019.11,2019.15,2019.19,2019.23,2019.27,2019.31,2019.35,2019.39,2019.43,2019.47,2019.51,2019.55,2019.59,2019.63,2019.67,2019.71,2019.75,2019.79,2019.83,2019.87,2019.91,2019.95,2019.99,
2020.03,2020.07,2020.11,2020.15,2020.19,2020.23,2020.27,2020.31,2020.35,2020.39,2020.43,2020.47,2020.51,2020.55,2020.59,2020.63,2020.67,2020.71,2020.75,2020.79,2020.83,2020.87,2020.91,2020.95,2020.99,
2021.03,2021.07,2021.11,2021.15,2021.19,2021.23,2021.27,2021.31,2021.35,2021.39,2021.43,2021.47,2021.51,2021.55,2021.59,2021.63,2021.67,2021.71,2021.75,2021.79,2021.83,2021.87,2021.91,2021.95,2021.99,
2022.03,2022.07,2022.11,2022.15,2022.19,2022.23,2022.27,2022.31,2022.35,2022.39,2022.43,2022.47,2022.51,2022.55,2022.59,2022.63,2022.67,2022.71,2022.75,2022.79,2022.83,2022.87,2022.91,2022.95,2022.99,
];
const zeroLine = [[1997.03, 0], [2016.15, 0]];
const axisCrossLine = [[1997, -25], [2023, -25]];

const plusThin = "path://M3.9 0H6.1V3.9H10V6.1H6.1V10H3.9V6.1H0V3.9H3.9Z";
const plusBold = "path://M3.2 0H6.8V3.2H10V6.8H6.8V10H3.2V6.8H0V3.2H3.2Z";
const lineIcon = "path://M0 0H46V5H0Z";
const GRAY = "#595959";
const NARROW = "'Liberation Sans Narrow','Liberation Sans',sans-serif";

export default function App() {
  const ref = useRef<HTMLDivElement>(null);
  useEffect(() => {
    document.body.style.margin = "0";
    const chart = echarts.init(ref.current!, null, { renderer: "svg" });
    const rects = [
      { x: 234, y: 56, width: 1612, height: 142, fill: "#fff", z: 3 },
      { x: 1703, y: 179, width: 311, height: 242, fill: "#fff", z: 3 },
      { x: 0, y: 1, width: 2086, height: 49, fill: "#7fc97f", z: 5 },
      { x: 0, y: 0, width: 2086, height: 1, fill: "#7f7f7f", z: 5 },
      { x: 0, y: 50, width: 2086, height: 3, fill: "#d9d9d9", z: 5 },
      { x: 2085, y: 0, width: 1, height: 1031, fill: "#7f7f7f", z: 5 },
      { x: 2078, y: 53, width: 2, height: 968, fill: "#dedede", z: 5 },
      { x: 0, y: 1020, width: 2080, height: 2, fill: "#e3e3e3", z: 5 },
      { x: 0, y: 1030, width: 2086, height: 1, fill: "#7f7f7f", z: 5 },
      { x: 0, y: 49, width: 22, height: 4, fill: "#ffc000", z: 6 },
      { x: 2063, y: 49, width: 22, height: 4, fill: "#ffc000", z: 6 },
      { x: 2080, y: 49, width: 5, height: 18, fill: "#ffc000", z: 6 },
      { x: 0, y: 1024, width: 22, height: 6, fill: "#ffc000", z: 6 },
      { x: 2063, y: 1023, width: 22, height: 7, fill: "#ffc000", z: 6 },
      { x: 2080, y: 969, width: 5, height: 61, fill: "#ffc000", z: 6 },
    ];
    const titleText = (text: string, x: number, y: number, scaleX: number, font: string, fill: string, textAlign: string) => ({
      type: "text", x, y, scaleX, z: 7, silent: true,
      style: { text, fill, font, textAlign, textVerticalAlign: "middle" },
    });
    const option: any = {
      animation: false,
      backgroundColor: "#ffffff",
      grid: { left: 92.4, right: 71, top: 97.7, bottom: 59 },
      xAxis: {
        type: "value", min: 1997, max: 2023, interval: 2,
        axisLine: { onZero: false, lineStyle: { color: "#d0d0d0", width: 2 } },
        axisTick: { show: false },
        axisLabel: {
          color: GRAY, fontFamily: NARROW, fontSize: 23, margin: 20, showMaxLabel: false,
          formatter: (v: number) => `01/01/${v}`,
        },
        splitLine: { show: true, showMaxLine: false, lineStyle: { color: "#dcdcdc", width: 2 } },
      },
      yAxis: {
        type: "value", min: -80, max: 140, interval: 20,
        axisLine: { show: true, onZero: false, lineStyle: { color: "#c8c8c8", width: 2 } },
        axisTick: { show: false },
        axisLabel: {
          color: GRAY, fontFamily: NARROW, fontSize: 20, margin: 19,
          formatter: (v: number) => (v < 0 ? `- ${-v}%` : `${v}%`),
        },
        splitLine: { lineStyle: { color: "#dcdcdc", width: 2 } },
      },
      legend: {
        orient: "vertical", left: 1735, top: 190.5, itemWidth: 46, itemHeight: 10, itemGap: 35,
        selectedMode: false, z: 7,
        textStyle: { color: GRAY, fontFamily: "Lato", fontWeight: "bold", fontSize: 25, lineHeight: 25 },
        data: [
          { name: seriesNames[0], icon: plusThin, itemStyle: { color: "#ffc000" } },
          { name: seriesNames[1], icon: plusBold, itemStyle: { color: "#0070c0" } },
          { name: seriesNames[2], icon: plusBold, itemStyle: { color: "#ff0000" } },
          { name: seriesNames[3], icon: lineIcon, itemStyle: { color: "#000000" } },
        ],
      },
      graphic: { elements: [
        ...rects.map((r) => ({ type: "rect", silent: true, z: r.z,
          shape: { x: r.x, y: r.y, width: r.width, height: r.height }, style: { fill: r.fill } })),
        titleText(pageTitle, 28, 26, 0.866, "bold 34px Lato", "#000", "left"),
        titleText(subtitleLines[0], 1040, 96, 0.882, "bold 27px Lato", GRAY, "center"),
        titleText(subtitleLines[1], 1042, 136, 0.951, "bold 27px Lato", GRAY, "center"),
        titleText(subtitleLines[2], 1040, 177, 0.926, "bold 27px Lato", GRAY, "center"),
      ] },
      series: [
        { type: "line", name: "axe", data: axisCrossLine, symbol: "none", silent: true, z: 1,
          lineStyle: { color: "#bfbfbf", width: 2 } },
        { type: "scatter", name: seriesNames[0], data: a04Points, symbol: plusThin, symbolSize: 10, silent: true, z: 2,
          itemStyle: { color: "#ffc000" } },
        { type: "scatter", name: seriesNames[1], data: a07Points, symbol: plusBold, symbolSize: 9, silent: true, z: 3,
          itemStyle: { color: "#0070c0" } },
        { type: "line", name: seriesNames[3], data: zeroLine, symbol: "none", silent: true, z: 3,
          lineStyle: { color: "#000", width: 5 }, itemStyle: { color: "#000" } },
        { type: "scatter", name: seriesNames[2], data: [...a10Points, ...a10ZeroDates.map((d) => [d, 0])],
          symbol: plusBold, symbolSize: 9, silent: true, z: 3, itemStyle: { color: "#ff0000" } },
      ],
    };
    chart.setOption(option);
    return () => chart.dispose();
  }, []);
  return <div ref={ref} style={{ position: "fixed", left: 0, top: 0, width: 2086, height: 1031 }} />;
}
